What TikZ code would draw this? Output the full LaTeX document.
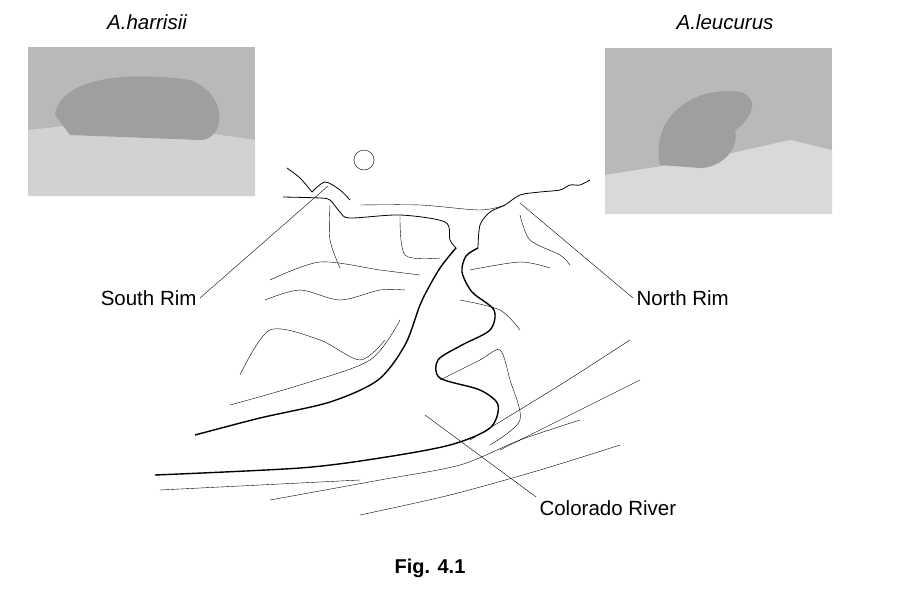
\documentclass[tikz,border=0pt]{standalone}
\usepackage{fontspec}
\setmainfont{Liberation Sans}
\begin{document}
\begin{tikzpicture}[x=1pt,y=-1pt]
            \useasboundingbox (0,0) rectangle (897,611);
            \tikzset{lbl/.style={font=\fontsize{20.5}{24}\selectfont}}
            % photographs
            \fill[gray!55] (28,47) rectangle (255,196);
            \fill[gray!35] (28,130) -- (120,120) -- (255,140) -- (255,196) -- (28,196) -- cycle;
            \fill[gray!75] (55,115) .. controls (60,80) and (120,70) .. (190,80) .. controls (230,95) and (225,140) .. (200,140) -- (70,135) -- cycle;
            \fill[gray!55] (605,48) rectangle (832,214);
            \fill[gray!30] (605,175) -- (700,160) -- (790,140) -- (832,150) -- (832,214) -- (605,214) -- cycle;
            \fill[gray!75] (660,165) .. controls (650,120) and (690,85) .. (740,92) .. controls (765,100) and (745,125) .. (735,130) .. controls (740,150) and (720,168) .. (700,168) -- cycle;
            \node[lbl,font=\itshape\fontsize{20.5}{24}\selectfont] (harrisii) at (147,22) {A.harrisii};
            \node[lbl,font=\itshape\fontsize{20.5}{24}\selectfont] (leucurus) at (725,22) {A.leucurus};
            % sun
            \draw (364,160) circle (10);
            % rims
            \draw[thick] plot[smooth] coordinates {(287,168) (300,178) (312,192)};
            \draw[thick] plot[smooth] coordinates {(283,197) (320,198) (330,200) (340,212) (350,218) (400,215) (445,222) (450,240) (456,248)};
            \draw[thick] plot[smooth] coordinates {(312,192) (325,182) (340,190) (350,200)};
            \draw[thick] plot[smooth] coordinates {(478,248) (480,225) (490,212) (505,205) (520,195) (540,192) (560,190) (570,185) (580,185) (590,180)};
            \draw plot[smooth] coordinates {(360,205) (420,205) (480,210) (505,205)};
            % cliffs
            \draw plot[smooth] coordinates {(330,205) (330,240) (340,268)};
            \draw plot[smooth] coordinates {(400,215) (405,255) (440,258)};
            \draw plot[smooth] coordinates {(270,280) (320,262) (380,270) (420,275)};
            \draw plot[smooth] coordinates {(265,300) (300,290) (340,300) (380,290) (405,290)};
            \draw plot[smooth] coordinates {(240,375) (270,330) (320,340) (360,360) (385,340)};
            \draw plot[smooth] coordinates {(230,405) (300,385) (370,360) (400,320)};
            \draw plot[smooth] coordinates {(520,215) (530,240) (560,255) (570,265)};
            \draw plot[smooth] coordinates {(470,270) (520,262) (550,268)};
            \draw plot[smooth] coordinates {(460,300) (500,310) (520,330)};
            \draw plot[smooth] coordinates {(440,380) (480,360) (500,350) (510,380) (520,420) (490,445)};
            \draw plot[smooth] coordinates {(470,440) (560,385) (630,340)};
            \draw plot[smooth] coordinates {(500,450) (600,400) (640,380)};
            \draw plot[smooth] coordinates {(270,500) (380,480) (460,465) (520,440) (580,420)};
            \draw plot[smooth] coordinates {(360,515) (450,495) (540,470) (620,445)};
            \draw plot[smooth] coordinates {(160,490) (260,485) (360,480)};
            % river
            \draw[line width=1.4pt] plot[smooth] coordinates {(195,435) (260,418) (330,402) (378,380) (405,345) (420,305) (430,285) (440,268) (450,255) (456,248)};
            \draw[line width=1.4pt] plot[smooth] coordinates {(155,475) (300,468) (380,458) (450,445) (490,428) (498,405) (480,390) (440,378) (438,360) (462,345) (490,330) (494,310) (472,292) (462,272) (466,256) (478,248)};
            % labels
            \node[lbl,anchor=east] (south) at (200,298) {South Rim};
            \node[lbl,anchor=west] (north) at (633,298) {North Rim};
            \node[lbl,anchor=west] (river) at (536,508) {Colorado River};
            \coordinate (srim) at (328,186);
            \coordinate (nrim) at (520,203);
            \coordinate (riv) at (425,415);
            \draw (south.east) -- (srim);
            \draw (north.west) -- (nrim);
            \draw (river.north west) -- (riv);
            \node[font=\bfseries\fontsize{20}{24}\selectfont] (fig) at (430,568) {Fig. 4.1};
\end{tikzpicture}
\end{document}
